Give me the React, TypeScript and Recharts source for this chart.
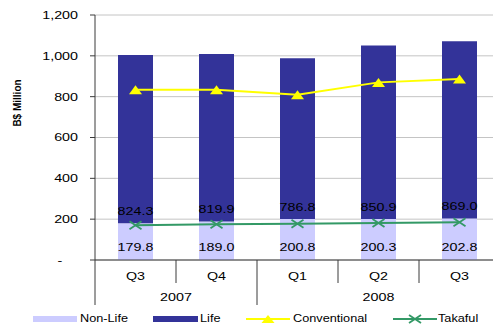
import React from 'react';
import {
  ComposedChart,
  Bar,
  Line,
  XAxis,
  YAxis,
  CartesianGrid,
  LabelList,
  Legend,
} from 'recharts';

// Quarterly premium figures, B$ million
const quarters = ['Q3', 'Q4', 'Q1', 'Q2', 'Q3'];
const years = ['2007', '2007', '2008', '2008', '2008'];
const nonLife = [179.8, 189.0, 200.8, 200.3, 202.8];
const life = [824.3, 819.9, 786.8, 850.9, 869.0];
const conventional = [834, 834, 810, 870, 887];
const takaful = [170, 175, 178, 181, 185];
const yTicks = [0, 200, 400, 600, 800, 1000, 1200];

const data = quarters.map((q, i) => ({
  key: `${years[i]}-${q}-${i}`,
  quarter: q,
  year: years[i],
  nonLife: nonLife[i],
  life: life[i],
  conventional: conventional[i],
  takaful: takaful[i],
}));

const FONT = '"Liberation Sans", Arial, Helvetica, sans-serif';
const SX = 1.3;
const AXIS = '#3a3a3a';
const LIFE = '#333399';
const NONLIFE = '#CCCCFF';
const CONV = '#FFFF00';
const TAKAFUL = '#339966';

type WTProps = {
  x: number;
  y: number;
  anchor?: 'start' | 'middle' | 'end';
  size?: number;
  sx?: number;
  children: React.ReactNode;
};

// Horizontally widened text, drawn around its anchor point
const WideText = ({ x, y, anchor = 'middle', size = 11, sx = SX, children }: WTProps) => (
  <g transform={`translate(${x},${y}) scale(${sx},1)`}>
    <text
      x={0}
      y={0}
      textAnchor={anchor}
      dominantBaseline="central"
      fontSize={size}
      fill="#000"
      fontFamily={FONT}
    >
      {children}
    </text>
  </g>
);

const YTick = (props: any) => {
  const { x, y, payload } = props;
  const v = payload.value as number;
  if (v === 0) {
    return <WideText x={x - 18} y={y}>-</WideText>;
  }
  return (
    <WideText x={x} y={y} anchor="end">
      {v.toLocaleString('en-US')}
    </WideText>
  );
};

// Two-level category axis: quarter row, then year row with group separators
const XTick = (props: any) => {
  const { x, y, payload, width } = props;
  const i: number = payload.index;
  const n = data.length;
  const band = (width || 405) / n;
  const groupStart = i === 0 || years[i] !== years[i - 1];
  let groupSize = 1;
  while (i + groupSize < n && years[i + groupSize] === years[i]) groupSize += 1;
  const left = x - band / 2;
  const isLast = i === n - 1;
  return (
    <g>
      <line x1={left} y1={y} x2={left} y2={y + (groupStart ? 45 : 23)} stroke={AXIS} strokeWidth={1} />
      {isLast && (
        <line x1={x + band / 2} y1={y} x2={x + band / 2} y2={y + 45} stroke={AXIS} strokeWidth={1} />
      )}
      <WideText x={x} y={y + 16}>{quarters[i]}</WideText>
      {groupStart && (
        <WideText x={x + ((groupSize - 1) * band) / 2} y={y + 37}>
          {years[i]}
        </WideText>
      )}
    </g>
  );
};

const BaseLabel = (offset: number) => (props: any) => {
  const { x, y, width, height, value } = props;
  if (value == null) return null;
  return (
    <WideText x={x + width / 2} y={y + height - offset}>
      {Number(value).toFixed(1)}
    </WideText>
  );
};

const TriangleDot = (p: any) => {
  const { cx, cy } = p;
  if (cx == null || cy == null) return null;
  return (
    <path
      key={`tri-${cx}`}
      d={`M${cx - 6.5},${cy + 4.5} L${cx},${cy - 4.5} L${cx + 6.5},${cy + 4.5} Z`}
      fill={CONV}
    />
  );
};

const CrossDot = (p: any) => {
  const { cx, cy } = p;
  if (cx == null || cy == null) return null;
  return (
    <g key={`x-${cx}`} stroke={TAKAFUL} strokeWidth={1.8}>
      <line x1={cx - 6} y1={cy - 4} x2={cx + 6} y2={cy + 4} />
      <line x1={cx - 6} y1={cy + 4} x2={cx + 6} y2={cy - 4} />
    </g>
  );
};

const YLabel = (props: any) => {
  const vb = props.viewBox || { x: 0, y: 15 };
  const cx = vb.x + 17;
  const cy = vb.y + 88;
  return (
    <text
      x={cx}
      y={cy}
      transform={`rotate(-90, ${cx}, ${cy})`}
      textAnchor="middle"
      dominantBaseline="central"
      fontSize={10}
      fontWeight="bold"
      fill="#000"
      fontFamily={FONT}
    >
      B$ Million
    </text>
  );
};

const LegendContent = () => (
  <svg width={493} height={16} style={{ display: 'block' }}>
    <rect x={33} y={5} width={44} height={6} fill={NONLIFE} />
    <WideText x={80} y={8} anchor="start" size={10} sx={1.27}>Non-Life</WideText>
    <rect x={153} y={5} width={45} height={6} fill={LIFE} />
    <WideText x={200} y={8} anchor="start" size={10} sx={1.27}>Life</WideText>
    <line x1={246} y1={8} x2={290} y2={8} stroke={CONV} strokeWidth={2} />
    <path d="M261.5,12 L268,4 L274.5,12 Z" fill={CONV} />
    <WideText x={293} y={8} anchor="start" size={10} sx={1.27}>Conventional</WideText>
    <line x1={393} y1={8} x2={437} y2={8} stroke={TAKAFUL} strokeWidth={2} />
    <g stroke={TAKAFUL} strokeWidth={1.8}>
      <line x1={409} y1={4} x2={421} y2={12} />
      <line x1={409} y1={12} x2={421} y2={4} />
    </g>
    <WideText x={438} y={8} anchor="start" size={10} sx={1.27}>Takaful</WideText>
  </svg>
);

export default function App() {
  return (
    <div
      style={{
        position: 'absolute',
        left: 0,
        top: 0,
        width: 493,
        height: 327,
        overflow: 'hidden',
        background: '#fff',
      }}
    >
      <ComposedChart
        width={510}
        height={327}
        data={data}
        margin={{ top: 15, right: 10, bottom: 0, left: 0 }}
        barSize={35}
      >
        <CartesianGrid horizontal vertical={false} stroke="#c4c4c4" strokeWidth={1} />
        <XAxis
          dataKey="key"
          interval={0}
          height={67}
          tickSize={0}
          tickMargin={0}
          tickLine={false}
          axisLine={{ stroke: AXIS, strokeWidth: 1 }}
          tick={<XTick />}
        />
        <YAxis
          width={95}
          domain={[0, 1200]}
          ticks={yTicks}
          interval={0}
          tickSize={5}
          tickMargin={12}
          tickLine={{ stroke: AXIS }}
          axisLine={{ stroke: AXIS, strokeWidth: 1 }}
          tick={<YTick />}
          label={<YLabel />}
        />
        <Legend
          layout="horizontal"
          verticalAlign="middle"
          align="center"
          content={<LegendContent />}
          wrapperStyle={{ position: 'absolute', left: 0, top: 311, width: 493, height: 16 }}
        />
        <Bar dataKey="nonLife" name="Non-Life" stackId="a" fill={NONLIFE} isAnimationActive={false}>
          <LabelList dataKey="nonLife" content={BaseLabel(13)} />
        </Bar>
        <Bar dataKey="life" name="Life" stackId="a" fill={LIFE} isAnimationActive={false}>
          <LabelList dataKey="life" content={BaseLabel(12)} />
        </Bar>
        <Line
          dataKey="conventional"
          name="Conventional"
          stroke={CONV}
          strokeWidth={2}
          dot={<TriangleDot />}
          activeDot={false}
          isAnimationActive={false}
        />
        <Line
          dataKey="takaful"
          name="Takaful"
          stroke={TAKAFUL}
          strokeWidth={2}
          dot={<CrossDot />}
          activeDot={false}
          isAnimationActive={false}
        />
      </ComposedChart>
    </div>
  );
}
